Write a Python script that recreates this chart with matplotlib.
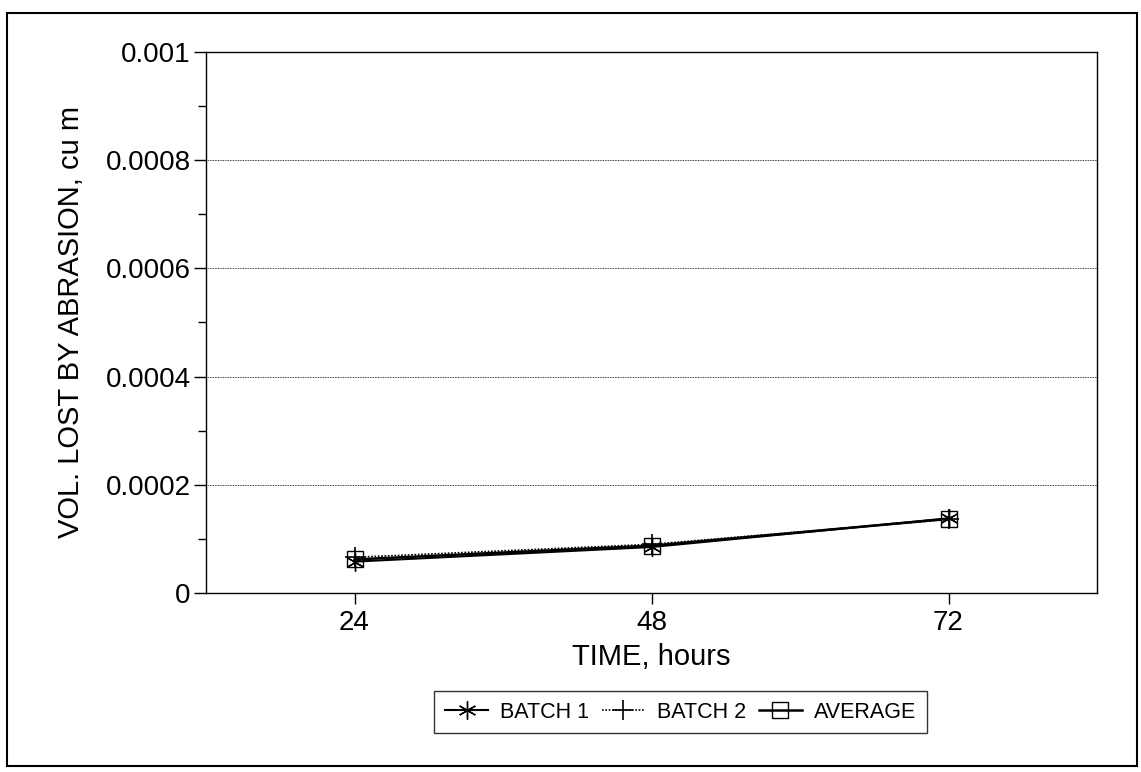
import matplotlib
matplotlib.use("Agg")
import matplotlib.pyplot as plt
from matplotlib.patches import Rectangle
from matplotlib.ticker import MultipleLocator, FixedLocator

plt.rcParams['font.family'] = ['Liberation Sans', 'DejaVu Sans']

hours = ['24', '48', '72']
batch1 = [0.000058, 0.000085, 0.000138]
batch2 = [0.000066, 0.000090, 0.000136]
average = [0.000062, 0.0000875, 0.000137]
yticks = [0, 0.0002, 0.0004, 0.0006, 0.0008, 0.001]
ytick_labels = ['0', '0.0002', '0.0004', '0.0006', '0.0008', '0.001']

W, H = 1141, 772
fig = plt.figure(figsize=(W/100, H/100), dpi=100)
L, R, T, B = 206, 1097, 52, 593
ax = fig.add_axes([L/W, 1-B/H, (R-L)/W, (B-T)/H])

x = range(len(hours))
ax.plot(x, batch1, color='black', lw=1.5, marker=(6, 2, 0), ms=13, mew=1.0, label='BATCH 1')
ax.plot(x, batch2, color='black', lw=1.2, ls=(0, (1, 1)), marker='+', ms=15, mew=1.2, label='BATCH 2')
ax.plot(x, average, color='black', lw=1.8, marker='s', ms=11, mfc='none', mew=1.0, label='AVERAGE')

ax.set_xlim(-0.5, len(hours) - 0.5)
ax.set_ylim(0, 0.001)
ax.set_xticks(list(x))
ax.set_xticklabels(hours)
ax.yaxis.set_major_locator(FixedLocator(yticks))
ax.set_yticklabels(ytick_labels)
ax.yaxis.set_minor_locator(MultipleLocator(0.0001))
ax.grid(axis='y', which='major', color='black', ls=(0, (1, 1)), lw=0.6)
ax.tick_params(axis='both', which='major', direction='out', length=9, width=1, labelsize=20, pad=2)
ax.tick_params(axis='x', which='major', length=8, pad=4)
ax.tick_params(axis='y', which='minor', direction='out', length=6, width=1)
for s in ax.spines.values():
    s.set_linewidth(1.0)

ax.set_xlabel('TIME, hours', fontsize=21, labelpad=5)
ax.set_ylabel('VOL. LOST BY ABRASION, cu m', fontsize=21, labelpad=15)

leg = fig.legend(loc='center', bbox_to_anchor=(680.5/W, 1-712/H), ncol=3, fontsize=15.5,
                 frameon=True, fancybox=False, edgecolor='black', handlelength=2.0,
                 handletextpad=0.55, columnspacing=0.6, borderpad=0.5)
leg.get_frame().set_linewidth(1.0)

fig.patches.append(Rectangle((7/W, 1-766/H), (1137-7)/W, (766-13)/H, transform=fig.transFigure,
                             fill=False, edgecolor='black', lw=1.5))

fig.savefig('out.png', dpi=100)
